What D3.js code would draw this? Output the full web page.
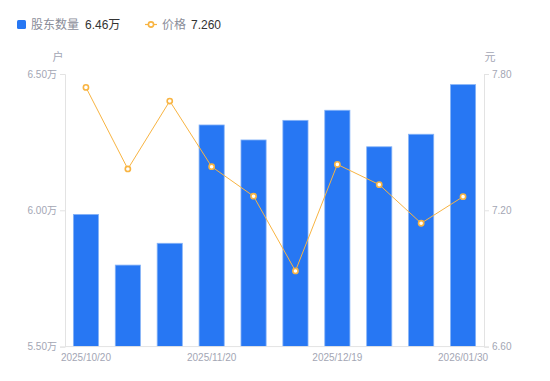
<!DOCTYPE html>
<html><head><meta charset="utf-8">
<script src="https://cdn.jsdelivr.net/npm/d3@7"></script>
<style>body{margin:0;background:#fff;font-family:"Liberation Sans","Noto Sans CJK SC",sans-serif;}</style>
</head><body><svg id="c" width="550" height="381"></svg>
<script>
const categories = ["2025/10/20","2025/10/31","2025/11/10","2025/11/20","2025/11/28","2025/12/10","2025/12/19","2025/12/31","2026/01/20","2026/01/30"];
const holders = [5.985, 5.799, 5.879, 6.313, 6.258, 6.330, 6.367, 6.233, 6.279, 6.461];
const prices = [7.741, 7.382, 7.681, 7.392, 7.262, 6.933, 7.402, 7.313, 7.143, 7.260];
const leftTicks = [5.5, 6.0, 6.5];
const rightTicks = [6.6, 7.2, 7.8];
const xLabels = ["2025/10/20","2025/11/20","2025/12/19","2026/01/30"];

const FONT = "'Liberation Sans', 'Noto Sans CJK SC', sans-serif";
const svg = d3.select("#c").style("font-family", FONT);
const L = 65, R = 484, T = 74, B = 346.6;
const x = d3.scaleBand().domain(categories).range([L, R]).paddingInner(0.4).paddingOuter(0.2);
const yL = d3.scaleLinear().domain([5.5, 6.5]).range([B, T]);
const yR = d3.scaleLinear().domain([6.6, 7.8]).range([B, T]);
const axisCol = "#e3e3e3", txtCol = "#a3a6b4";

// bars
svg.append("g").selectAll("rect").data(categories).join("rect")
  .attr("x", d => x(d)).attr("width", x.bandwidth())
  .attr("y", (d,i) => yL(holders[i])).attr("height", (d,i) => B - yL(holders[i]))
  .attr("fill", "#2777f3").attr("stroke", "#86b3f7").attr("stroke-width", 0.8);

// axes
const gl = svg.append("g").attr("transform", `translate(${L},0)`)
  .call(d3.axisLeft(yL).tickValues(leftTicks).tickSize(5).tickPadding(3).tickFormat(d => d3.format(".2f")(d) + "万"));
const gr = svg.append("g").attr("transform", `translate(${R},0)`)
  .call(d3.axisRight(yR).tickValues(rightTicks).tickSize(5).tickPadding(3).tickFormat(d3.format(".2f")));
const gb = svg.append("g").attr("transform", `translate(0,${B})`)
  .call(d3.axisBottom(x).tickValues(xLabels).tickSize(0).tickPadding(7));
[gl, gr, gb].forEach(g => {
  g.attr("font-family", null).attr("font-size", null);
  g.select(".domain").attr("stroke", axisCol);
  g.selectAll(".tick line").attr("stroke", axisCol);
  g.selectAll("text").attr("fill", txtCol).style("font-size", "10px").style("font-family", FONT);
});
gb.select(".domain").attr("d", `M${L},0H${R}`);

// unit labels
svg.append("text").attr("x", 58).attr("y", 61).attr("text-anchor", "middle").attr("fill", txtCol).style("font-size", "11px").text("户");
svg.append("text").attr("x", 490).attr("y", 61).attr("text-anchor", "middle").attr("fill", txtCol).style("font-size", "11px").text("元");

// line
const cx = d => x(d) + x.bandwidth() / 2;
const line = d3.line().x((d,i) => cx(categories[i])).y(d => yR(d));
svg.append("path").datum(prices).attr("d", line).attr("fill", "none").attr("stroke", "#f8b442").attr("stroke-width", 1);
svg.append("g").selectAll("circle").data(prices).join("circle")
  .attr("cx", (d,i) => cx(categories[i])).attr("cy", d => yR(d)).attr("r", 2.6)
  .attr("fill", "#fff").attr("stroke", "#f8b442").attr("stroke-width", 1.6);

// legend
const lg = svg.append("g").style("font-size", "12px");
lg.append("rect").attr("x", 17).attr("y", 20).attr("width", 9).attr("height", 9).attr("rx", 1.5).attr("fill", "#2777f3");
lg.append("text").attr("x", 31).attr("y", 29).attr("fill", "#8a8d99").text("股东数量");
lg.append("text").attr("x", 85).attr("y", 29).attr("fill", "#333").text(d3.format(".2f")(holders[holders.length-1]) + "万");
lg.append("line").attr("x1", 145).attr("x2", 157).attr("y1", 24.5).attr("y2", 24.5).attr("stroke", "#f8b442").attr("stroke-width", 1.2);
lg.append("circle").attr("cx", 151).attr("cy", 24.5).attr("r", 2.6).attr("fill", "#fff").attr("stroke", "#f8b442").attr("stroke-width", 1.6);
lg.append("text").attr("x", 162).attr("y", 29).attr("fill", "#8a8d99").text("价格");
lg.append("text").attr("x", 191).attr("y", 29).attr("fill", "#333").text(d3.format(".3f")(prices[prices.length-1]));
</script></body></html>
